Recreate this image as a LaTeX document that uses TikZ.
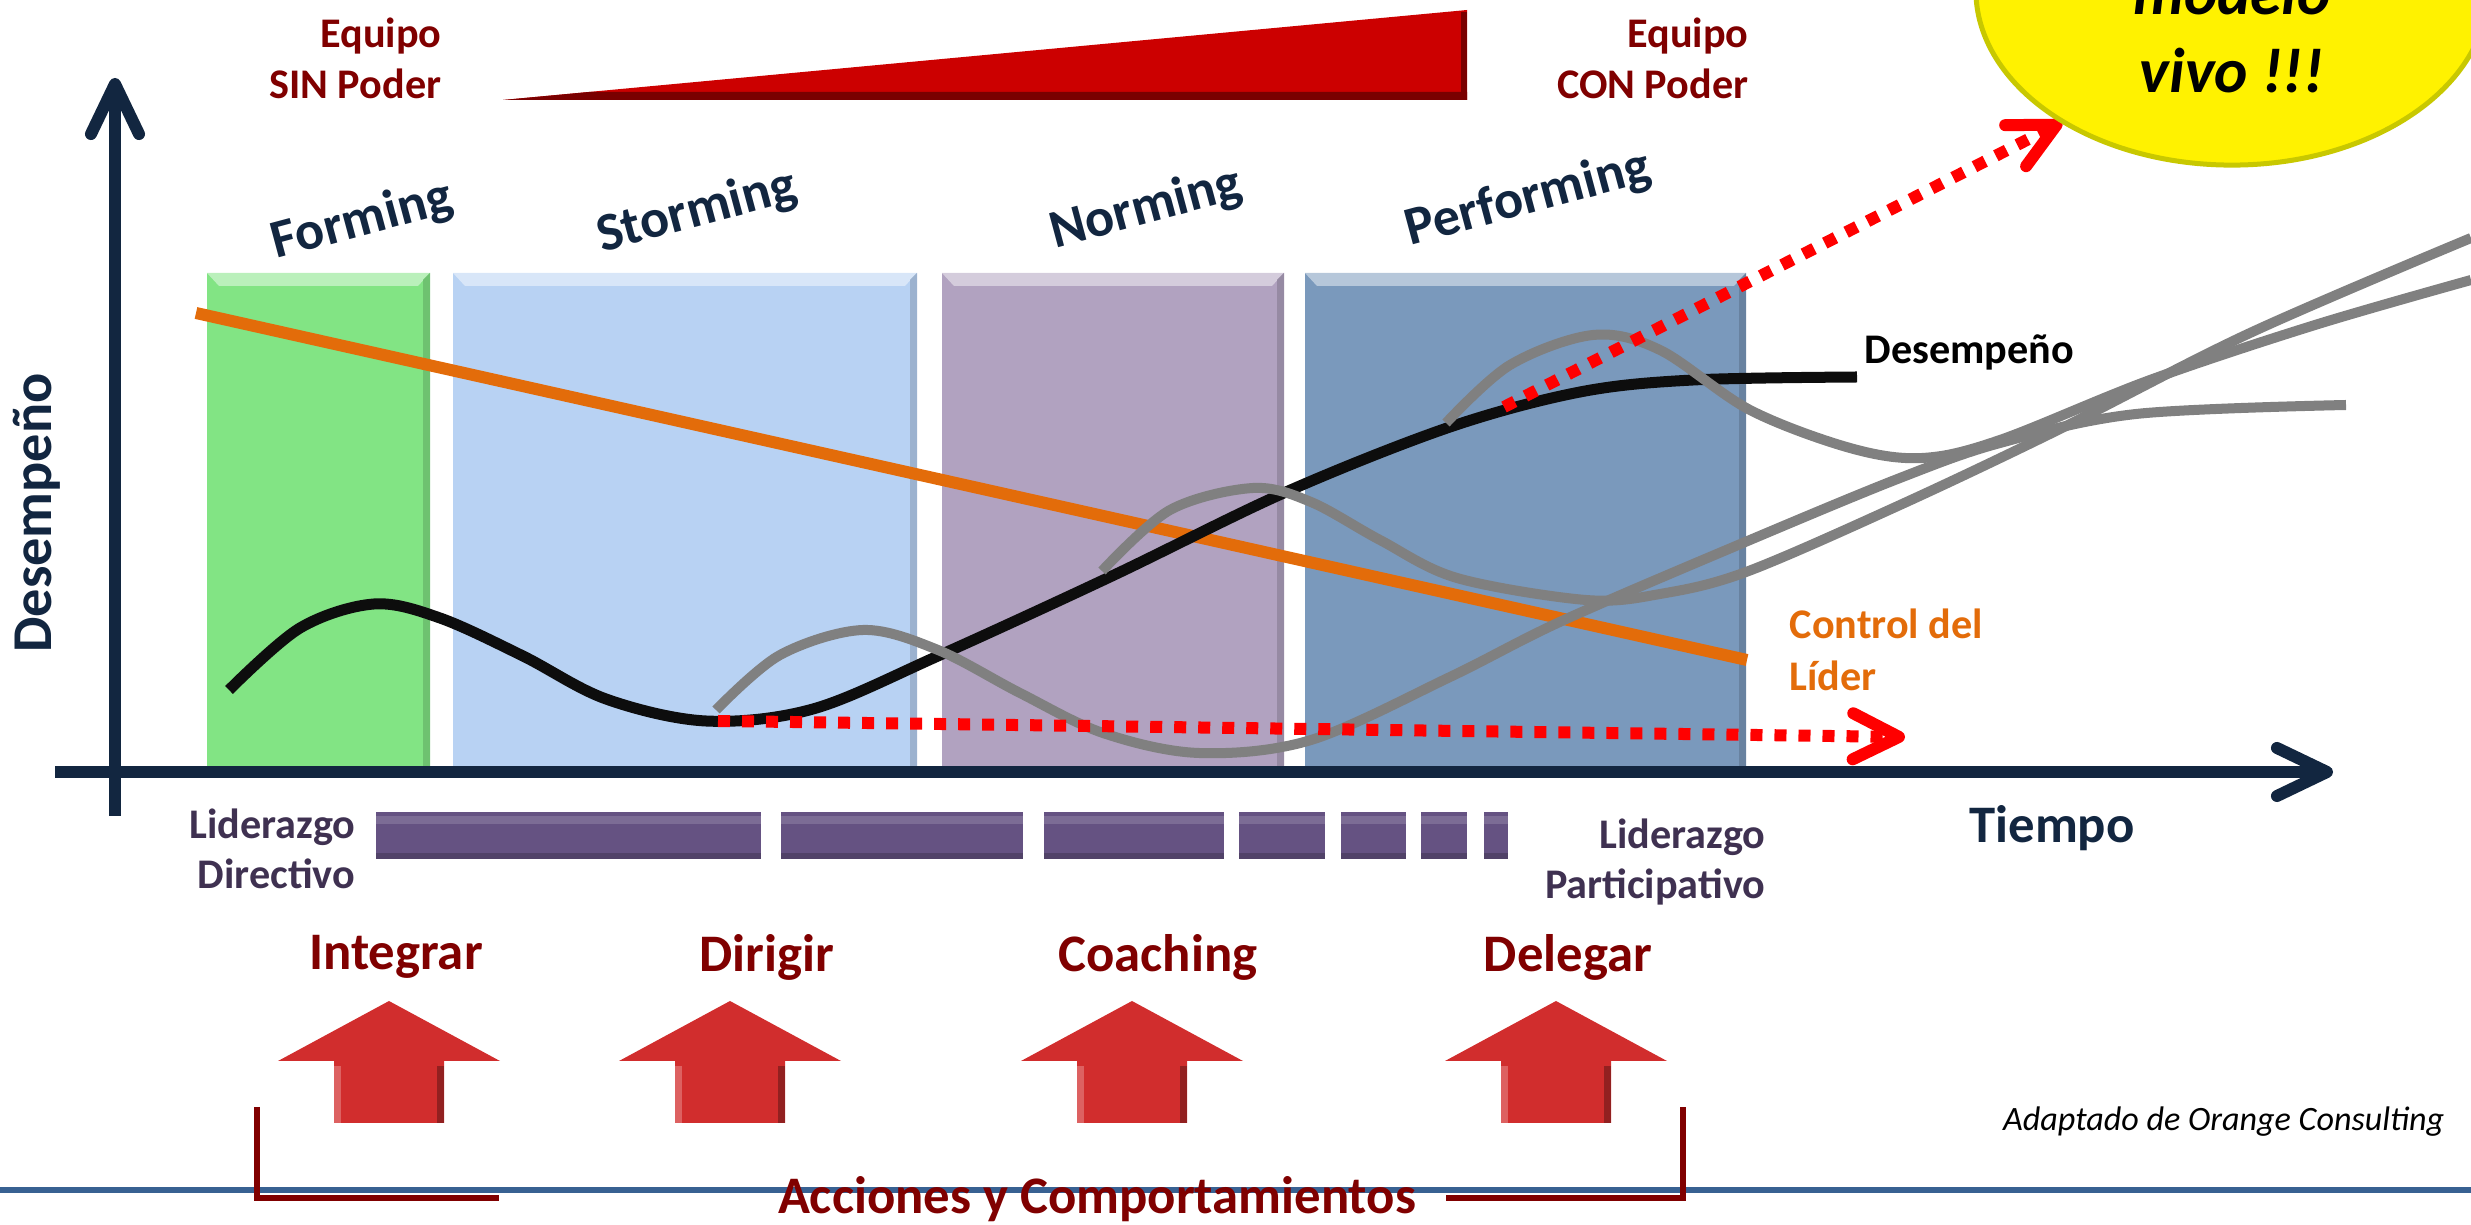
\documentclass[tikz,border=0pt]{standalone}
\usepackage{fontspec}
\setmainfont{Carlito}
\usepackage{tikz}
\usetikzlibrary{positioning, arrows.meta}

\definecolor{axisnavy}{RGB}{18,38,64}
\definecolor{formgreen}{RGB}{130,228,132}
\definecolor{stormblue}{RGB}{184,210,243}
\definecolor{normpurple}{RGB}{177,162,192}
\definecolor{perfblue}{RGB}{122,153,188}
\definecolor{ctrlorange}{RGB}{227,108,10}
\definecolor{cyclegray}{RGB}{128,128,128}
\definecolor{darkmaroon}{RGB}{128,0,0}
\definecolor{barpurple}{RGB}{101,82,130}
\definecolor{leadpurple}{RGB}{63,49,81}
\definecolor{powerred}{RGB}{204,0,0}
\definecolor{actionred}{RGB}{209,45,45}
\definecolor{footblue}{RGB}{56,97,146}
\definecolor{bubbleedge}{RGB}{200,200,0}

\begin{document}
\begin{tikzpicture}[x=0.01cm, y=-0.01cm,
    every node/.style={inner sep=0pt},
    stagelabel/.style={font=\fontsize{15.4}{18}\selectfont\bfseries, text=axisnavy, rotate=15},
    teamlabel/.style={font=\fontsize{12}{14.5}\selectfont\bfseries, text=darkmaroon, align=right, anchor=east},
    leadlabel/.style={font=\fontsize{12}{14.2}\selectfont\bfseries, text=leadpurple, align=right, anchor=east},
    actionlabel/.style={font=\fontsize{15}{18}\selectfont\bfseries, text=darkmaroon},
    axisline/.style={axisnavy, line width=0.12cm, -{Straight Barb[length=0.5cm, width=0.48cm, round]}},
    trendline/.style={red, line width=0.12cm, dash pattern=on 0.12cm off 0.12cm, -{Straight Barb[length=0.46cm, width=0.46cm, round]}},
    cyclecurve/.style={cyclegray, line width=0.1cm},
  ]
    \path[use as bounding box] (0,0) rectangle (2471,1225);
    \clip (0,0) rectangle (2471,1225);

    % stage boxes
    \foreach \xa/\xb/\col in {207/430/formgreen, 453/917/stormblue, 942/1284/normpurple, 1305/1746/perfblue} {
        \fill[\col] (\xa,273) rectangle (\xb,768);
        \fill[\col!55!white] (\xa,273) -- (\xb,273) -- (\xb-12,286) -- (\xa+12,286) -- cycle;
        \fill[\col!85!black] (\xb,273) -- (\xb,768) -- (\xb-7,768) -- (\xb-7,280) -- cycle;
    }
    \node[stagelabel] (forming) at (362,221) {Forming};
    \node[stagelabel] (storming) at (697,212) {Storming};
    \node[stagelabel] (norming) at (1146,209) {Norming};
    \node[stagelabel] (performing) at (1528,199) {Performing};

    % axes
    \coordinate (ybottom) at (115,816);
    \coordinate (ytop) at (115,78);
    \coordinate (xleft) at (55,772);
    \coordinate (xright) at (2333,772);
    \draw[axisline] (ybottom) -- (ytop);
    \draw[axisline] (xleft) -- (xright);
    \node[font=\fontsize{16}{19}\selectfont\bfseries, text=axisnavy, rotate=90] (ylabel) at (37,513) {Desempeño};
    \node[font=\fontsize{15}{18}\selectfont\bfseries, text=axisnavy] (xlabel) at (2052,828) {Tiempo};

    % leader control
    \draw[ctrlorange, line width=0.12cm] (196,313) -- (1747,660);
    \node[font=\fontsize{12}{14.8}\selectfont\bfseries, text=ctrlorange, align=left, anchor=west] (ctrllabel) at (1789,650) {Control del\\Líder};

    % performance
    \draw[black!95, line width=0.11cm] plot[smooth, tension=0.55] coordinates {(229,690) (300,628) (374,604) (440,618) (523,656) (606,699) (706,721) (813,709) (938,656) (1112,576) (1286,492) (1450,427) (1580,392) (1693,380) (1857,377)};
    \node[font=\fontsize{12}{14.5}\selectfont\bfseries, anchor=west] (perflabel) at (1864,352) {Desempeño};

    % regression cycles
    \draw[cyclecurve] plot[smooth, tension=0.55] coordinates {(716,710) (780,655) (863,630) (938,650) (1020,693) (1103,733) (1199,753) (1311,740) (1450,677) (1564,620) (1750,540) (1900,478) (2000,443) (2136,414) (2346,405)};
    \draw[cyclecurve] plot[smooth, tension=0.55] coordinates {(1102,571) (1170,510) (1253,488) (1311,502) (1380,540) (1457,578) (1586,600) (1660,594) (1746,572) (1900,505) (2058,430) (2250,333) (2471,238)};
    \draw[cyclecurve] plot[smooth, tension=0.55] coordinates {(1446,423) (1510,365) (1593,335) (1660,350) (1750,410) (1850,448) (1922,458) (2000,440) (2150,380) (2315,325) (2471,280)};

    % trends
    \coordinate (stallstart) at (718,721);
    \coordinate (stallend) at (1905,737);
    \coordinate (growstart) at (1504,407);
    \coordinate (growend) at (2062,122);
    \draw[trendline] (stallstart) -- (stallend);
    \draw[trendline] (growstart) -- (growend);

    % bubble
    \draw[fill=yellow, draw=bubbleedge, line width=0.05cm] (2232,-10) ellipse [x radius=2.56cm, y radius=1.75cm];
    \node[font=\fontsize{18}{22}\selectfont\bfseries\itshape, anchor=base] (modelo) at (2232,15) {modelo};
    \node[font=\fontsize{18}{22}\selectfont\bfseries\itshape, anchor=base] (vivo) at (2232,93) {vivo !!!};

    % team power
    \fill[powerred] (503,100) -- (1467,100) -- (1467,10) -- cycle;
    \fill[powerred!60!black] (503,100) -- (1467,100) -- (1467,92) -- (589,92) -- cycle;
    \fill[powerred!60!black] (1461,12) rectangle (1467,100);
    \node[teamlabel] (sinpoder) at (442,58) {Equipo\\SIN Poder};
    \node[teamlabel] (conpoder) at (1749,58) {Equipo\\CON Poder};

    % leadership style
    \foreach \xa/\xb in {376/761, 781/1023, 1044/1224, 1239/1325, 1341/1406, 1421/1467, 1484/1508} {
        \fill[barpurple] (\xa,812) rectangle (\xb,859);
        \fill[barpurple!85!white] (\xa,816) rectangle (\xb,824);
        \fill[barpurple!80!black] (\xa,853) rectangle (\xb,859);
    }
    \node[leadlabel] (directivo) at (356,849) {Liderazgo\\Directivo};
    \node[leadlabel] (participativo) at (1766,862) {Liderazgo\\Participativo};

    % actions
    \foreach \cx in {389, 730, 1132, 1556} {
        \fill[actionred] (\cx,1001) -- (\cx+111,1061) -- (\cx+55,1061) -- (\cx+55,1123) -- (\cx-55,1123) -- (\cx-55,1061) -- (\cx-111,1061) -- cycle;
        \fill[actionred!75!white] (\cx-55,1066) rectangle (\cx-48,1123);
        \fill[actionred!70!black] (\cx+48,1066) rectangle (\cx+55,1123);
    }
    \node[actionlabel] (integrar) at (396,957) {Integrar};
    \node[actionlabel] (dirigir) at (767,957) {Dirigir};
    \node[actionlabel] (coaching) at (1158,957) {Coaching};
    \node[actionlabel] (delegar) at (1568,957) {Delegar};

    % footer
    \draw[footblue, line width=0.06cm] (0,1190) -- (2471,1190);
    \draw[darkmaroon, line width=0.06cm] (257,1107) -- (257,1198) -- (499,1198);
    \draw[darkmaroon, line width=0.06cm] (1446,1198) -- (1683,1198) -- (1683,1107);
    \node[actionlabel] (acciones) at (1097,1199) {Acciones y Comportamientos};
    \node[font=\fontsize{9.7}{12}\selectfont\itshape, anchor=east] (fuente) at (2445,1122) {Adaptado de Orange Consulting};
\end{tikzpicture}
\end{document}
